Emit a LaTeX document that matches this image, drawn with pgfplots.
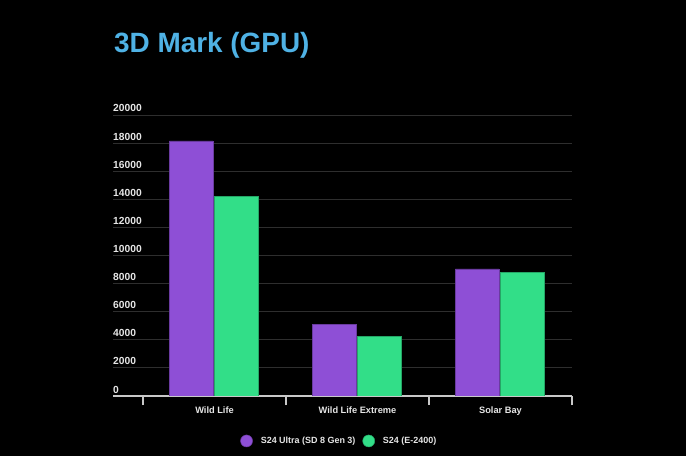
\documentclass[border=0pt]{standalone}
\usepackage{fontspec}
\setmainfont{Liberation Sans}
\usepackage{pgfplots}
\pgfplotsset{compat=1.18}

\definecolor{titleblue}{HTML}{4FB2E5}
\definecolor{ultrapurple}{HTML}{8E4FD6}
\definecolor{basegreen}{HTML}{32DE88}
\definecolor{gridgray}{HTML}{2E2E2E}
\definecolor{basegray}{HTML}{C8C8C8}
\definecolor{labelgray}{HTML}{E6E6E6}

\begin{document}
\begin{tikzpicture}
\fill[black] (0,0) rectangle (686bp,456bp);
\useasboundingbox (0,0) rectangle (686bp,456bp);
\node[anchor=base west, inner sep=0pt, text=titleblue,
      font=\bfseries\fontsize{28}{32}\selectfont] at (114bp,403.7bp) {3D Mark (GPU)};
\begin{axis}[
    at={(113bp,60bp)}, anchor=south west,
    scale only axis,
    width=459bp, height=281bp,
    xmin=-0.71, xmax=2.5,
    ymin=0, ymax=20000,
    ybar, bar width=43.5bp,
    axis x line*=bottom, axis y line*=left,
    x axis line style={draw=basegray, line width=1.3bp, -},
    y axis line style={draw=none},
    ytick={0,2000,...,20000},
    scaled y ticks=false,
    ytick style={draw=none},
    ymajorgrids,
    grid style={draw=gridgray, line width=0.9bp},
    yticklabel style={anchor=base west, inner sep=0pt, yshift=3bp,
        text=labelgray, font=\bfseries\fontsize{10.3}{12}\selectfont},
    /pgf/number format/assume math mode=true,
    /pgf/number format/1000 sep={},
    xtick={0,1,2},
    xticklabels={Wild Life, Wild Life Extreme, Solar Bay},
    xtick style={draw=none},
    xticklabel style={anchor=base, inner sep=0pt, yshift=-13.5bp,
        text=labelgray, font=\bfseries\fontsize{9.3}{11}\selectfont},
    extra x ticks={-0.5,0.5,1.5,2.5},
    extra x tick labels={},
    extra x tick style={grid=none, tick align=outside, major tick length=9bp,
        xtick style={draw=basegray, line width=1.3bp}},
    legend columns=2,
    legend style={at={(0.493,-0.16)}, anchor=center, draw=none, fill=none,
        text=labelgray, font=\bfseries\fontsize{9}{11}\selectfont,
        /tikz/every odd column/.append style={column sep=6bp},
        /tikz/every even column/.append style={column sep=5bp}},
    legend image code/.code={\fill[#1] (6bp,0bp) circle (6bp);},
]
\addplot[bar shift=-23.5bp, fill=ultrapurple, draw=ultrapurple!75!black, line width=0.5bp]
    coordinates {(0,18150) (1,5100) (2,9050)};
\addlegendentry{S24 Ultra (SD 8 Gen 3)}
\addplot[bar shift=21.5bp, fill=basegreen, draw=basegreen!75!black, line width=0.5bp]
    coordinates {(0,14200) (1,4220) (2,8820)};
\addlegendentry{S24 (E-2400)}
\end{axis}
\end{tikzpicture}
\end{document}
